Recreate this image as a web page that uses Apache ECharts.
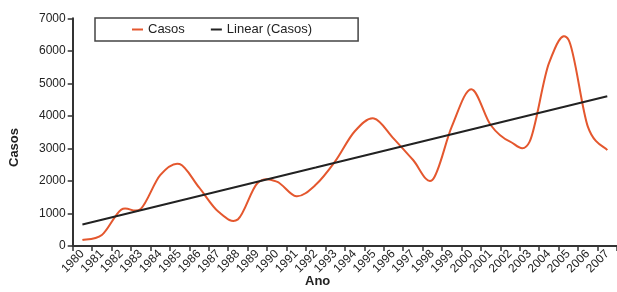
<!DOCTYPE html>
<html>
<head>
<meta charset="utf-8">
<script src="https://cdn.jsdelivr.net/npm/echarts@6/dist/echarts.min.js"></script>
<style>
html,body{margin:0;padding:0;background:#fff;}
#c{width:617px;height:292px;}
</style>
</head>
<body>
<div id="c"></div>
<script>
var years = ['1980','1981','1982','1983','1984','1985','1986','1987','1988','1989','1990','1991','1992','1993','1994','1995','1996','1997','1998','1999','2000','2001','2002','2003','2004','2005','2006','2007'];
var casos = [185,340,1120,1140,2180,2520,1800,1050,820,1930,1980,1530,1880,2600,3520,3920,3310,2650,2030,3670,4820,3720,3210,3200,5620,6350,3670,2950];
var yTicks = [0,1000,2000,3000,4000,5000,6000,7000];

// Linear trend (least squares) of Casos
var n = casos.length, sx = 0, sy = 0, sxx = 0, sxy = 0;
for (var i = 0; i < n; i++) { sx += i; sy += casos[i]; sxx += i*i; sxy += i*casos[i]; }
var slope = (n*sxy - sx*sy) / (n*sxx - sx*sx);
var icpt = (sy - slope*sx) / n;
var trend = casos.map(function(_, i){ return Math.round(icpt + slope*i); });

var RED = '#e4572e';
var font = 'Liberation Sans, Arial, sans-serif';

// Smoothed line (Catmull-Rom style, like spreadsheet "smoothed line"), positioned via the axes
function renderSmooth(params, api) {
  if (params.dataIndex !== 0) return null;
  var pts = casos.map(function(v, i){ return api.coord([i, v]); });
  var d = 'M' + pts[0][0] + ' ' + pts[0][1];
  for (var k = 0; k < pts.length - 1; k++) {
    var p0 = pts[Math.max(k-1, 0)], p1 = pts[k], p2 = pts[k+1], p3 = pts[Math.min(k+2, pts.length-1)];
    var c1x = p1[0] + (p2[0]-p0[0])/6, c1y = p1[1] + (p2[1]-p0[1])/6;
    var c2x = p2[0] - (p3[0]-p1[0])/6, c2y = p2[1] - (p3[1]-p1[1])/6;
    d += ' C' + c1x + ' ' + c1y + ' ' + c2x + ' ' + c2y + ' ' + p2[0] + ' ' + p2[1];
  }
  return { type: 'path', shape: { pathData: d }, style: { stroke: RED, lineWidth: 2, fill: null } };
}

var chart = echarts.init(document.getElementById('c'));
chart.setOption({
  backgroundColor: '#fff',
  animation: false,
  textStyle: { fontFamily: font },
  legend: {
    left: 95, top: 18,
    padding: [5, 46, 5, 37],
    itemGap: 26,
    itemWidth: 11, itemHeight: 2,
    icon: 'rect',
    borderColor: '#444', borderWidth: 1.5,
    textStyle: { fontFamily: font, fontSize: 13, color: '#222' },
    data: ['Casos', 'Linear (Casos)']
  },
  grid: { left: 72.7, right: -5.3, top: 18.3, bottom: 46 },
  xAxis: {
    type: 'category',
    data: years,
    boundaryGap: true,
    axisLine: { lineStyle: { color: '#333', width: 2 } },
    axisTick: { show: true, length: 5, lineStyle: { color: '#333', width: 1.5 } },
    axisLabel: { interval: 0, rotate: 45, fontSize: 12, color: '#222', margin: 6, fontFamily: font },
    splitLine: { show: false }
  },
  yAxis: {
    type: 'value',
    min: yTicks[0], max: yTicks[yTicks.length-1], interval: 1000,
    axisLine: { show: true, lineStyle: { color: '#333', width: 2 } },
    axisTick: { show: true, length: 5, lineStyle: { color: '#333', width: 1.5 } },
    axisLabel: { fontSize: 12, color: '#222', margin: 7, fontFamily: font, formatter: function(v){ return String(v); } },
    splitLine: { show: false }
  },
  graphic: [
    { type: 'text', left: 305, top: 275, style: { text: 'Ano', font: 'bold 13px ' + font, fill: '#222' } },
    { type: 'text', x: 8, y: 167, rotation: Math.PI/2, style: { text: 'Casos', font: 'bold 13px ' + font, fill: '#222' } }
  ],
  series: [
    {
      name: 'Casos', type: 'custom',
      data: casos.map(function(v, i){ return [i, v]; }),
      encode: { x: 0, y: 1 },
      renderItem: renderSmooth,
      itemStyle: { color: RED }
    },
    {
      name: 'Linear (Casos)', type: 'line', data: trend, smooth: false,
      symbol: 'none', lineStyle: { color: '#222', width: 2 }, itemStyle: { color: '#222' }
    }
  ]
});
</script>
</body>
</html>
